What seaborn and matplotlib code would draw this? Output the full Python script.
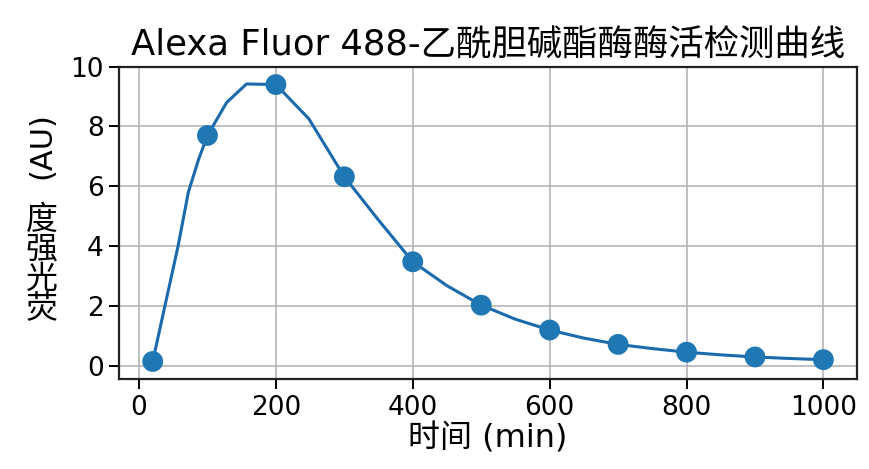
import matplotlib
matplotlib.use('Agg')
import matplotlib.pyplot as plt
import seaborn as sns

# measured points
time_min = [20, 100, 200, 300, 400, 500, 600, 700, 800, 900, 1000]
fluor_au = [0.15, 7.7, 9.4, 6.32, 3.48, 2.03, 1.2, 0.72, 0.46, 0.3, 0.21]

# smoothed curve through the points
curve_x = [20, 57, 72, 87, 100, 128, 157, 200, 248, 300, 350, 400, 450, 500,
           550, 600, 650, 700, 750, 800, 850, 900, 950, 1000]
curve_y = [0.15, 4.0, 5.8, 6.9, 7.7, 8.8, 9.42, 9.4, 8.26, 6.32, 4.87, 3.48, 2.68, 2.03,
           1.56, 1.2, 0.93, 0.72, 0.58, 0.46, 0.37, 0.3, 0.25, 0.21]

title = 'Alexa Fluor 488-乙酰胆碱酯酶酶活检测曲线'
xlabel = '时间 (min)'
ylabel_cjk = '荧光强度'
ylabel_unit = '(AU)'

sns.set_style('ticks')
plt.rcParams['font.family'] = ['DejaVu Sans', 'Noto Sans CJK SC']
for k in ['text.color', 'axes.labelcolor', 'xtick.color', 'ytick.color']:
    plt.rcParams[k] = 'black'

blue = '#1f77b4'

fig = plt.figure(figsize=(8.7, 4.69), dpi=100)
ax = fig.add_axes([0.137, 0.191, 0.848, 0.667])

sns.lineplot(x=curve_x, y=curve_y, ax=ax, color='#1a6aad', linewidth=2.2, sort=False, zorder=3)
sns.scatterplot(x=time_min, y=fluor_au, ax=ax, color=blue, s=225, edgecolor='none', zorder=4)

ax.set_xlim(-29, 1049)
ax.set_ylim(-0.45, 10)
ax.set_xticks([0, 200, 400, 600, 800, 1000])
ax.set_yticks([0, 2, 4, 6, 8, 10])
ax.grid(True, color='#b0b0b0', linewidth=1.4, alpha=0.8)
for s in ax.spines.values():
    s.set_visible(True)
    s.set_linewidth(1.6)
    s.set_color('#222222')
ax.tick_params(labelsize=19, length=7, width=1.4, pad=4)

ax.set_title(title, fontsize=25.5, pad=8)
ax.set_xlabel(xlabel, fontsize=23, labelpad=2)

# y label: unit rotated, Chinese characters stacked upright
fig.text(0.048, 0.69, ylabel_unit, rotation=90, fontsize=22, ha='center', va='center')
fig.text(0.048, 0.435, '\n'.join(ylabel_cjk[::-1]), fontsize=23, ha='center', va='center',
         linespacing=0.95)

fig.savefig('out.png', dpi=100)
